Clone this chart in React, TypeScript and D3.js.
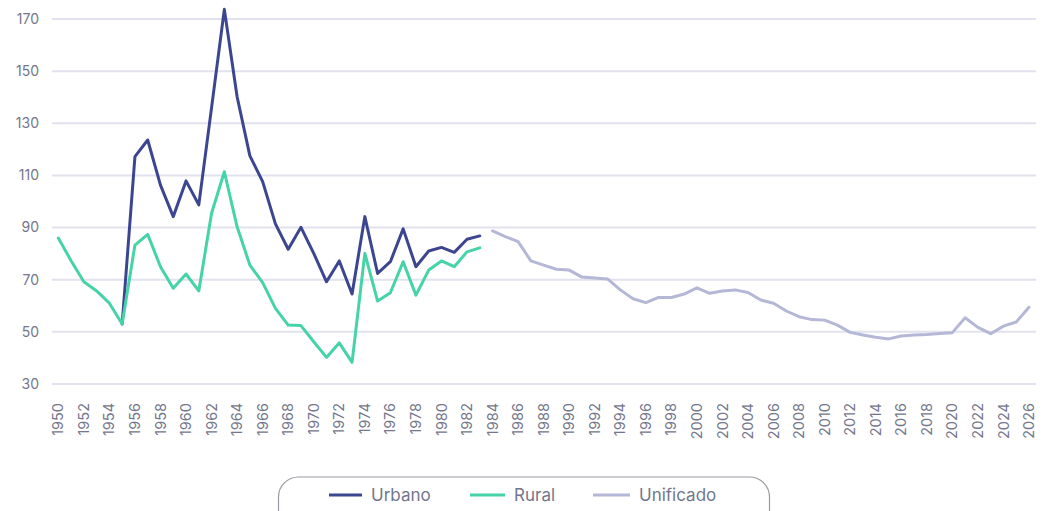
import React from "react";
import * as d3 from "d3";

const years: number[] = d3.range(1950, 2027);
const yTicks = [30, 50, 70, 90, 110, 130, 150, 170];

const ruralYears = d3.range(1950, 1984);
const ruralValues = [
  86, 77.3, 69.2, 65.7, 61, 53, 83.3, 87.4, 75, 66.7,
  72.2, 65.7, 95.5, 111.4, 90.3, 75.6, 68.9, 59, 52.6, 52.4,
  46.2, 40.2, 45.8, 38.3, 80.1, 61.8, 65, 76.9, 64.1, 73.7,
  77.2, 75, 80.7, 82.2,
];

const urbanYears = d3.range(1955, 1984);
const urbanValues = [
  53, 117.2, 123.6, 106.3, 94.2, 107.9, 98.7, 136, 173.7, 140.2,
  117.5, 107.6, 91.4, 81.7, 90.1, 80.1, 69.2, 77.2, 64.5, 94.2,
  72.4, 76.9, 89.5, 75, 81, 82.4, 80.5, 85.5, 86.8,
];

const unifiedYears = d3.range(1984, 2027);
const unifiedValues = [
  88.7, 86.5, 84.6, 77.2, 75.6, 74, 73.7, 71, 70.7, 70.3,
  66.1, 62.7, 61.2, 63.2, 63.2, 64.5, 66.9, 64.8, 65.7, 66.1,
  65.1, 62.2, 61, 58, 55.8, 54.7, 54.5, 52.6, 49.8, 48.8,
  47.9, 47.3, 48.4, 48.8, 49, 49.4, 49.7, 55.4, 51.7, 49.3,
  52.2, 53.8, 59.4,
];

const seriesNames = ["Urbano", "Rural", "Unificado"];
const seriesColors = ["#3c4690", "#47d3a8", "#b5b7d6"];

export default function App() {
  const W = 1045;
  const H = 511;
  const x = d3.scalePoint<number>().domain(years).range([58.3, 1029]);
  const y = d3.scaleLinear().domain([30, 170]).range([384, 19]);
  const line = d3
    .line<[number, number]>()
    .x((d) => x(d[0]) as number)
    .y((d) => y(d[1]));

  const series: [number, number][][] = [
    urbanYears.map((yr, i) => [yr, urbanValues[i]]),
    ruralYears.map((yr, i) => [yr, ruralValues[i]]),
    unifiedYears.map((yr, i) => [yr, unifiedValues[i]]),
  ];

  const font = "Inter, 'Noto Sans', sans-serif";
  const textColor = "#73768c";

  const legendX = [329, 470, 593];
  const legendW = [33, 35, 37];

  return (
    <svg
      width={W}
      height={H}
      style={{ position: "absolute", left: 0, top: 0, display: "block" }}
      fontFamily={font}
    >
      <rect x={0} y={0} width={W} height={H} fill="#ffffff" />
      {yTicks.map((t) => (
        <g key={t}>
          <line x1={52} x2={1036} y1={y(t)} y2={y(t)} stroke="#e1e2ee" strokeWidth={2} />
          <text
            x={39}
            y={y(t)}
            dy="0.35em"
            textAnchor="end"
            fontSize={14}
            fill={textColor}
          >
            {t}
          </text>
        </g>
      ))}
      {years
        .filter((yr) => yr % 2 === 0)
        .map((yr) => (
          <text
            key={yr}
            transform={`translate(${x(yr)},403) rotate(-90)`}
            textAnchor="end"
            dy="0.35em"
            fontSize={14.5}
            fill={textColor}
          >
            {yr}
          </text>
        ))}
      {[0, 1, 2].map((i) => (
        <path
          key={i}
          d={line(series[i]) || ""}
          fill="none"
          stroke={seriesColors[i]}
          strokeWidth={3}
          strokeLinejoin="round"
          strokeLinecap="round"
        />
      ))}
      <rect
        x={278.5}
        y={477}
        width={491}
        height={60}
        rx={20}
        ry={20}
        fill="none"
        stroke="#9a9aa2"
        strokeWidth={1.2}
      />
      {seriesNames.map((n, i) => (
        <g key={n}>
          <line
            x1={legendX[i]}
            x2={legendX[i] + legendW[i]}
            y1={495}
            y2={495}
            stroke={seriesColors[i]}
            strokeWidth={3}
          />
          <text
            x={legendX[i] + legendW[i] + 9}
            y={495}
            dy="0.35em"
            fontSize={17}
            fill={textColor}
          >
            {n}
          </text>
        </g>
      ))}
    </svg>
  );
}
